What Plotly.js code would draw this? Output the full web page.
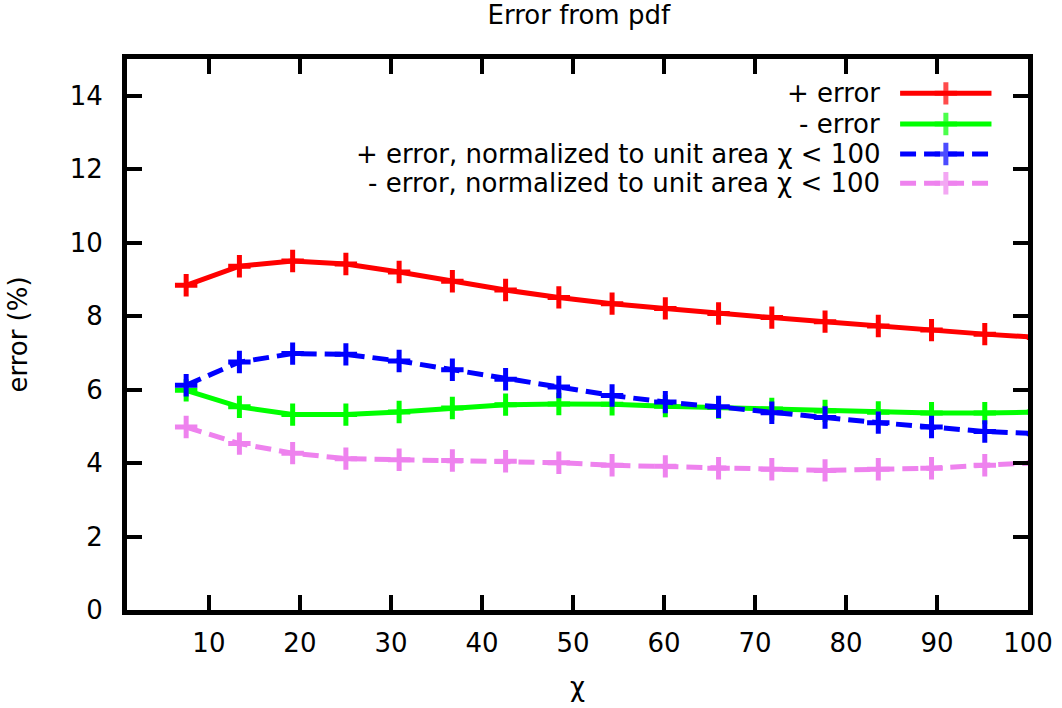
<!DOCTYPE html>
<html>
<head>
<meta charset="utf-8">
<script src="https://cdn.plot.ly/plotly-3.0.1.min.js"></script>
<style>html,body{margin:0;padding:0;background:#fff;}#chart{width:1062px;height:708px;}</style>
</head>
<body>
<div id="chart"></div>
<script>
// chi bin centres
const chi = [7.5, 13.35, 19.2, 25.05, 30.9, 36.75, 42.6, 48.45, 54.3, 60.15, 66.0, 71.85, 77.7, 83.55, 89.4, 95.25, 101.1];
const plusError = [8.84, 9.36, 9.50, 9.42, 9.20, 8.95, 8.71, 8.51, 8.34, 8.21, 8.07, 7.96, 7.85, 7.73, 7.62, 7.51, 7.42];
const minusError = [5.98, 5.53, 5.32, 5.32, 5.39, 5.50, 5.59, 5.61, 5.60, 5.55, 5.51, 5.47, 5.42, 5.38, 5.36, 5.36, 5.39];
const plusErrorNorm = [6.12, 6.75, 6.98, 6.96, 6.78, 6.54, 6.28, 6.07, 5.84, 5.66, 5.53, 5.37, 5.24, 5.10, 4.98, 4.86, 4.80];
const minusErrorNorm = [4.98, 4.53, 4.27, 4.12, 4.09, 4.07, 4.05, 4.01, 3.94, 3.91, 3.86, 3.83, 3.80, 3.83, 3.86, 3.94, 4.01];

const seriesNames = ['+ error', '- error', '+ error, normalized to unit area χ < 100', '- error, normalized to unit area χ < 100'];
const seriesValues = [plusError, minusError, plusErrorNorm, minusErrorNorm];
const seriesColors = ['#ff0000', '#00ff00', '#0000ff', '#ee82ee'];
const seriesDash = ['solid', 'solid', '16px,8px', '16px,8px'];
const xTicks = [10, 20, 30, 40, 50, 60, 70, 80, 90, 100];
const yTicks = [0, 2, 4, 6, 8, 10, 12, 14];

const FONT = '"DejaVu Sans", "Liberation Sans", Arial, sans-serif';
const FS = 26;

const traces = [];
seriesValues.forEach((vals, i) => {
  traces.push({
    x: chi, y: vals, type: 'scatter', mode: 'lines+markers',
    name: seriesNames[i], showlegend: false,
    line: {color: seriesColors[i], width: 5, dash: seriesDash[i]},
    marker: {symbol: 'cross-thin', size: 16, color: seriesColors[i], line: {color: seriesColors[i], width: 5}},
    xaxis: 'x', yaxis: 'y'
  });
});

// key (gnuplot-style: text left, sample right)
const keyRows = [0.9377, 0.882, 0.8276, 0.7744];
const annotations = [];
seriesNames.forEach((n, i) => {
  traces.push({
    x: [0, 0.5, 1], y: [keyRows[i], keyRows[i], keyRows[i]], type: 'scatter', mode: 'lines+markers',
    showlegend: false, hoverinfo: 'skip',
    line: {color: seriesColors[i], width: 5, dash: seriesDash[i]},
    marker: {symbol: 'cross-thin', size: [0, 16, 0], color: seriesColors[i], line: {color: seriesColors[i], width: 5}},
    xaxis: 'x2', yaxis: 'y2'
  });
  annotations.push({
    xref: 'paper', yref: 'paper', x: 0.8376, y: keyRows[i], xanchor: 'right', yanchor: 'middle',
    text: n, showarrow: false, font: {family: FONT, size: FS, color: '#000'}
  });
});

const layout = {
  width: 1062, height: 708,
  margin: {l: 127, r: 34, t: 59, b: 98, pad: 0},
  paper_bgcolor: '#fff', plot_bgcolor: 'rgba(0,0,0,0)',
  font: {family: FONT, size: FS, color: '#000'},
  title: {text: 'Error from pdf', font: {family: FONT, size: FS, color: '#000'}, x: 0.545, xanchor: 'center', y: 0.979, yanchor: 'middle'},
  xaxis: {
    range: [1, 100], tickvals: xTicks, ticktext: xTicks.map(String),
    ticks: 'inside', ticklen: 15, tickwidth: 4, tickcolor: '#000',
    showline: true, linewidth: 5, linecolor: '#000', mirror: 'ticks',
    showgrid: false, zeroline: false,
    tickfont: {family: FONT, size: FS, color: '#000'},
    ticklabelstandoff: 6,
    title: {text: 'χ', font: {family: FONT, size: FS, color: '#000'}, standoff: 22},
    automargin: false
  },
  yaxis: {
    range: [0, 15], tickvals: yTicks, ticktext: yTicks.map(String),
    ticks: 'inside', ticklen: 15, tickwidth: 4, tickcolor: '#000',
    showline: true, linewidth: 5, linecolor: '#000', mirror: 'ticks',
    showgrid: false, zeroline: false,
    tickfont: {family: FONT, size: FS, color: '#000'},
    ticklabelstandoff: 14,
    title: {text: 'error (%)', font: {family: FONT, size: FS, color: '#000'}, standoff: 36},
    automargin: false
  },
  xaxis2: {domain: [0.858, 0.9597], range: [0, 1], anchor: 'y2', visible: false, fixedrange: true},
  yaxis2: {domain: [0, 1], range: [0, 1], anchor: 'x2', visible: false, fixedrange: true},
  annotations: annotations,
  showlegend: false
};

Plotly.newPlot('chart', traces, layout, {staticPlot: true, displayModeBar: false});
</script>
</body>
</html>
